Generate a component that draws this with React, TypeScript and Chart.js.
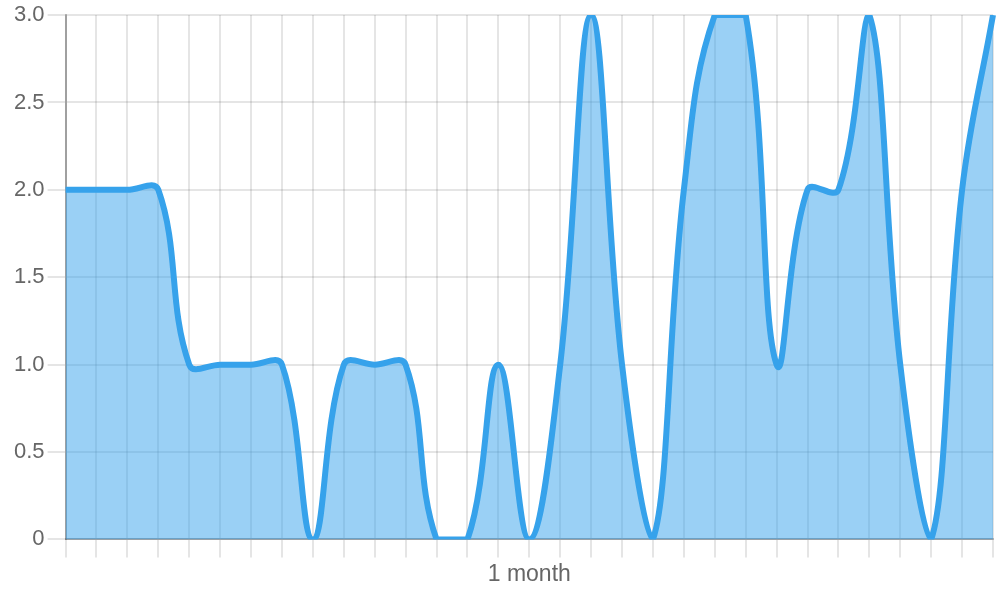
import React, { useEffect, useRef } from "react";
import { Chart, registerables } from "chart.js";

Chart.register(...registerables);

const labels: string[] = [
  "", "", "", "", "", "", "", "", "", "", "", "", "", "", "",
  "1 month",
  "", "", "", "", "", "", "", "", "", "", "", "", "", "", "",
];

const values: number[] = [
  2, 2, 2, 2, 1, 1, 1, 1, 0, 1, 1, 1, 0, 0, 1, 0,
  1, 3, 1, 0, 2, 3, 3, 1, 2, 2, 3, 1, 0, 2, 3,
];

export default function App() {
  const ref = useRef<HTMLCanvasElement | null>(null);
  useEffect(() => {
    if (!ref.current) return;
    const chart = new Chart(ref.current, {
      type: "line",
      data: {
        labels,
        datasets: [
          {
            data: values,
            borderColor: "rgb(54, 162, 235)",
            backgroundColor: "rgba(54, 162, 235, 0.5)",
            borderWidth: 6,
            fill: true,
            tension: 0.4,
            pointRadius: 0,
          },
        ],
      },
      options: {
        animation: false,
        responsive: true,
        maintainAspectRatio: false,
        layout: { padding: { left: 11, right: 7, top: 0, bottom: 9 } },
        plugins: { legend: { display: false }, tooltip: { enabled: false } },
        scales: {
          x: {
            grid: { tickLength: 18, lineWidth: 2, color: "rgba(0,0,0,0.1)" },
            border: { width: 2, color: "rgba(0,0,0,0.3)" },
            ticks: {
              autoSkip: false,
              maxRotation: 0,
              color: "#666",
              font: { size: 23 },
            },
          },
          y: {
            min: 0,
            max: 3,
            grid: { tickLength: 18, lineWidth: 2, color: "rgba(0,0,0,0.1)" },
            border: { width: 2, color: "rgba(0,0,0,0.3)" },
            ticks: {
              stepSize: 0.5,
              color: "#666",
              font: { size: 22, lineHeight: 1.1 },
            },
          },
        },
      },
    });
    return () => chart.destroy();
  }, []);
  return (
    <div style={{ position: "fixed", left: 0, top: 0, width: 1000, height: 600 }}>
      <canvas ref={ref} />
    </div>
  );
}
